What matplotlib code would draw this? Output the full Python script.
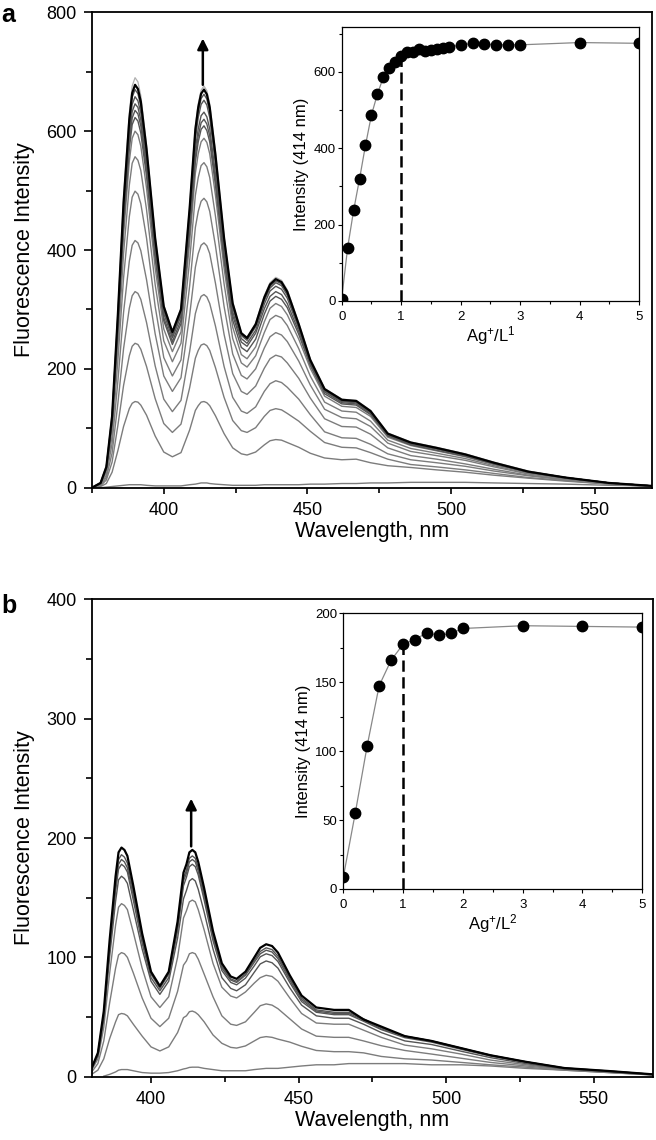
import numpy as np
import matplotlib
matplotlib.use('Agg')
import matplotlib.pyplot as plt
from matplotlib.ticker import MultipleLocator

plt.rcParams['font.family'] = ['Liberation Sans', 'DejaVu Sans']
plt.rcParams['mathtext.fontset'] = 'custom'
plt.rcParams['mathtext.rm'] = 'Liberation Sans'
plt.rcParams['mathtext.it'] = 'Liberation Sans:italic'

# ---- panel a: emission spectra (L1 + Ag+) ----
wl_a = [375, 378, 380, 382, 384, 386, 388,
        389, 390, 391, 392, 394, 397, 400, 403, 406, 409, 411, 412, 413, 414, 415, 416, 418,
        421, 424, 427, 429, 432, 435, 437, 439, 441, 443, 447,
        451, 456, 462, 467, 472, 478, 486, 495, 505, 515, 527, 540, 555, 570]
a_base = [0, 0, 1, 2, 3, 4, 5,
          5, 5, 5, 5, 4, 3, 3, 3, 3, 5, 6, 7, 8, 8, 8, 7, 6, 5, 4, 4, 4, 4, 5, 5, 5, 5, 5, 5,
          6, 6, 7, 7, 8, 8, 9, 9, 9, 8, 7, 6, 4, 3]
a_01 = [0, 2, 7, 26, 62, 103, 133,
        142, 145, 144, 139, 122, 87, 60, 52, 59, 97, 130, 138, 144, 145, 143, 138, 121, 91, 67,
        57, 55, 60, 72, 79, 81, 80, 76, 68,
        58, 50, 47, 48, 42, 37, 34, 30, 26, 21, 16, 11, 6, 2]
a_02 = [0, 3, 13, 43, 104, 172, 222,
        238, 243, 241, 233, 204, 150, 108, 93, 107, 168, 218, 231, 240, 242, 239, 231, 202, 152,
        113, 96, 93, 101, 120, 130, 133, 131, 125, 112,
        95, 76, 68, 67, 59, 48, 39, 35, 30, 24, 17, 12, 6, 2]
a_03 = [0, 4, 17, 58, 141, 234, 302,
        323, 330, 327, 317, 278, 205, 149, 128, 147, 229, 293, 310, 322, 325, 321, 310, 272, 204,
        152, 129, 125, 136, 162, 175, 180, 177, 169, 149,
        123, 94, 84, 83, 73, 57, 47, 42, 36, 28, 20, 13, 7, 2]
a_04 = [0, 5, 21, 74, 178, 295, 381,
        408, 416, 412, 399, 350, 259, 188, 162, 185, 290, 371, 394, 408, 412, 407, 394, 344, 258,
        192, 162, 157, 171, 201, 217, 223, 220, 210, 184,
        151, 116, 103, 102, 90, 67, 54, 48, 40, 31, 21, 14, 7, 2.5]
a_05 = [0, 6, 26, 88, 213, 353, 456,
        489, 499, 494, 478, 420, 305, 219, 188, 215, 339, 438, 465, 482, 487, 481, 465, 407, 305,
        225, 189, 183, 200, 235, 254, 261, 257, 246, 213,
        173, 132, 118, 116, 103, 75, 61, 54, 46, 35, 23, 15, 7, 2.5]
a_06 = [0, 7, 29, 99, 238, 394, 509,
        546, 557, 551, 534, 468, 342, 247, 212, 243, 382, 492, 522, 542, 547, 540, 522, 457, 343,
        251, 210, 203, 222, 261, 283, 290, 286, 273, 234,
        188, 144, 129, 127, 112, 80, 66, 58, 49, 37, 24, 16, 8, 3]
a_07 = [0, 7, 31, 106, 257, 425, 549,
        588, 600, 594, 575, 504, 370, 267, 229, 262, 412, 529, 562, 582, 588, 581, 562, 492, 369,
        270, 224, 217, 237, 279, 302, 310, 305, 291, 250,
        201, 154, 137, 135, 120, 85, 71, 62, 52, 39, 26, 16, 8, 3]
a_08 = [0, 7, 32, 110, 267, 441, 570,
        611, 623, 617, 597, 524, 386, 281, 241, 276, 430, 548, 582, 603, 609, 601, 582, 509, 382,
        282, 236, 229, 250, 292, 314, 322, 317, 303, 258,
        206, 158, 141, 139, 123, 87, 72, 63, 53, 40, 26, 16, 8, 3]
a_09 = [0, 7, 33, 112, 272, 450, 581,
        622, 635, 629, 609, 534, 394, 286, 246, 282, 438, 558, 592, 614, 620, 612, 592, 518, 389,
        290, 245, 238, 260, 301, 322, 330, 325, 310, 263,
        209, 161, 143, 141, 125, 88, 73, 65, 54, 41, 26, 17, 8, 3]
a_10 = [0, 8, 33, 114, 276, 457, 591,
        633, 646, 640, 619, 543, 402, 293, 252, 289, 448, 569, 604, 626, 632, 624, 604, 528, 396,
        296, 251, 243, 265, 309, 331, 339, 334, 319, 268,
        212, 163, 145, 143, 126, 89, 75, 66, 55, 41, 27, 17, 8, 3]
a_12 = [0, 8, 34, 117, 282, 466, 602,
        645, 658, 651, 631, 553, 409, 298, 256, 293, 458, 587, 623, 645, 652, 644, 623, 545, 409,
        303, 256, 248, 271, 315, 336, 345, 340, 324, 271,
        213, 164, 146, 144, 127, 90, 76, 67, 56, 42, 27, 17, 8, 3]
a_16 = [0, 8, 35, 119, 287, 474, 613,
        657, 670, 663, 642, 563, 415, 302, 259, 297, 464, 596, 632, 655, 662, 654, 632, 553, 415,
        307, 258, 250, 273, 317, 339, 348, 343, 327, 273,
        215, 165, 147, 145, 128, 90, 76, 67, 56, 42, 27, 17, 8, 3]
a_top = [0, 8, 35, 120, 290, 480, 620,
         664, 678, 671, 650, 570, 420, 305, 262, 300, 470, 603, 640, 663, 670, 662, 640, 560, 420,
         310, 260, 252, 275, 320, 342, 351, 346, 330, 275,
         215, 166, 148, 146, 129, 91, 76, 67, 56, 42, 27, 17, 8, 3]
a_out = [0, 9, 37, 124, 296, 488, 630,
         676, 690, 683, 660, 576, 424, 307, 263, 302, 474, 608, 646, 669, 676, 668, 646, 565, 423,
         312, 261, 253, 277, 323, 345, 354, 349, 333, 277,
         217, 167, 149, 147, 130, 92, 77, 68, 57, 43, 28, 17, 8, 3]

# inset a: titration curve
ratio_a = [0, 0.1, 0.2, 0.3, 0.4, 0.5, 0.6, 0.7, 0.8, 0.9, 1.0, 1.1, 1.2, 1.3, 1.4, 1.5, 1.6,
           1.7, 1.8, 2.0, 2.2, 2.4, 2.6, 2.8, 3.0, 4.0, 5.0]
int_a = [6, 140, 237, 320, 408, 487, 542, 586, 610, 627, 642, 653, 653, 660, 656, 658, 660,
         662, 665, 671, 675, 673, 671, 671, 671, 677, 675]

# ---- panel b: emission spectra (L2 + Ag+) ----
wl_b = [380, 382, 384, 386, 388,
        389, 390, 391, 392, 394, 397, 400, 403, 406, 409, 411, 412, 413, 414, 415, 416, 418,
        421, 424, 427, 429, 432, 435, 437, 439, 441, 443, 447,
        451, 456, 462, 467, 472, 478, 486, 495, 505, 515, 527, 540, 555, 570]
b_base = [np.nan, np.nan, 0.5, 2, 4,
          5.5, 6, 6, 6, 5, 3.5, 3, 3, 3.5, 5, 6.5, 7, 7.8, 8, 8, 8, 7, 6, 5, 5, 5, 5, 6, 6.5,
          7, 7, 7, 8,
          9, 10, 10, 11, 11, 11, 11, 10, 10, 9, 7, 5.5, 3.5, 1.5]
b_02 = [2.2, 5.5, 15, 32, 46,
        52, 53, 52.5, 51, 44, 34, 25, 21.6, 25, 37, 49.5, 51, 54.5, 55, 54, 52, 46, 35, 28,
        24.6, 24, 25.8, 30, 32.8, 33.6, 33, 31.5, 29,
        25.5, 22, 21, 21, 20, 17, 15, 14, 12, 10, 8, 5.5, 3.5, 1.5]
b_04 = [4.3, 11, 30, 62, 91,
        102, 104, 103, 100, 87, 66, 49, 42, 49, 71.5, 93.5, 97, 103, 104, 103, 98.5, 86, 67, 51,
        44, 43, 46, 54, 59.5, 61, 60, 57, 48.5,
        40, 34, 33, 33, 30, 26, 22, 19, 15.5, 12, 9, 6, 4, 1.7]
b_06 = [6, 15, 41.5, 87, 127,
        142, 145, 143.5, 140, 121, 91, 67, 58, 67, 100, 133, 139, 146.5, 148, 146.5, 140, 123,
        95, 75, 67.6, 66, 71, 78.5, 83, 85, 84, 80, 66,
        53, 45, 44, 44, 39, 33, 26.5, 23.4, 19, 14, 10, 6, 3.8, 1.6]
b_08 = [7, 17.5, 48, 101, 147,
        165, 168, 166, 162, 140, 107, 80, 69, 80, 116, 149, 156, 164, 166, 164, 157, 138, 107,
        83, 74, 72, 77, 87.6, 94.5, 97, 95.5, 91, 74.5,
        60, 51, 49, 49, 44, 37, 30, 27, 21.4, 16, 11, 6.5, 4.3, 1.8]
b_10 = [7.4, 18.5, 51, 107, 156,
        174, 178, 176, 171.5, 148, 112, 83, 72, 83, 122.5, 160, 167, 176, 178, 176, 169, 148,
        114, 89, 79, 77, 82.6, 93, 100.5, 103, 101.5, 96.5, 79,
        63, 54, 52, 52, 46.5, 39.5, 32.7, 29, 23, 17.3, 12, 7, 4.6, 1.9]
b_12 = [7.6, 19, 52, 109, 159,
        178, 182, 180, 175, 152, 115, 86, 74, 86, 125.6, 164, 170.5, 180, 182, 180, 172.4, 151,
        117, 91, 81, 79, 85, 96, 103, 106, 104.5, 99, 81,
        64.6, 55, 53, 53, 47.5, 40, 34, 30, 24, 18, 12.5, 7.3, 4.8, 2]
b_16 = [7.8, 19.4, 53, 111, 163,
        182, 186, 184, 179, 155, 117, 87, 75, 87, 127, 166.5, 173, 183, 185, 183, 175, 154,
        119, 92.6, 82, 80, 86, 97.5, 105, 108, 106.5, 101, 82.5,
        66, 56, 54, 54, 48.5, 41, 34, 30, 24, 18, 12.5, 7.3, 4.8, 2]
b_top = [8, 20, 55, 115, 168,
         188, 192, 190, 185, 160, 120, 88, 76, 88, 130, 171, 178, 188, 190, 188, 180, 158,
         122, 95, 84, 82, 88, 100, 108, 111, 109.5, 104, 85,
         68, 58, 56, 56, 48, 42, 34, 30, 24, 18, 12.5, 7.3, 4.8, 2]

# inset b: titration curve
ratio_b = [0, 0.2, 0.4, 0.6, 0.8, 1.0, 1.2, 1.4, 1.6, 1.8, 2.0, 3.0, 4.0, 5.0]
int_b = [8.5, 55, 104, 147.5, 166, 177.5, 181, 186, 184, 185.5, 189, 191, 190.5, 190]

# arrows (x, start, end)
arrow_a = (413.6, 678, 756)
arrow_b = (413.6, 193, 233)

GRAY = '#7c7c7c'


def style_main(ax):
    for s in ax.spines.values():
        s.set_linewidth(1.3)
    ax.tick_params(which='both', direction='out', top=False, right=False, width=1.2,
                   labelsize=13)
    ax.tick_params(axis='x', which='major', length=4.5, pad=5.5)
    ax.tick_params(axis='x', which='minor', length=3.5)
    ax.tick_params(axis='y', which='major', length=6, pad=5)
    ax.tick_params(axis='y', which='minor', length=4)
    ax.xaxis.set_major_locator(MultipleLocator(50))
    ax.xaxis.set_minor_locator(MultipleLocator(25))
    ax.set_xlabel('Wavelength, nm', fontsize=15.5, labelpad=2)
    ax.set_ylabel('Fluorescence Intensity', fontsize=15.5, labelpad=8)


def style_inset(ax, xlab):
    for s in ax.spines.values():
        s.set_linewidth(0.9)
    ax.tick_params(which='both', direction='out', width=0.8, labelsize=9.5)
    ax.tick_params(axis='x', which='major', length=3, pad=4)
    ax.tick_params(axis='y', which='major', length=3, pad=1.5)
    ax.tick_params(which='minor', length=2)
    ax.set_xlim(0, 5)
    ax.xaxis.set_major_locator(MultipleLocator(1))
    ax.xaxis.set_minor_locator(MultipleLocator(0.5))
    ax.set_xlabel(xlab, fontsize=12, labelpad=1)
    ax.set_ylabel('Intensity (414 nm)', fontsize=12, labelpad=3)


def draw_spectra(ax, wl, lower, upper, base, top, outer=None):
    ax.plot(wl, base, color=GRAY, lw=1.0)
    for c in lower:
        ax.plot(wl, c, color=GRAY, lw=1.0)
    for c in upper:
        ax.plot(wl, c, color='#555555', lw=1.0)
    if outer is not None:
        ax.plot(wl, outer, color='#b0b0b0', lw=0.9)
    ax.plot(wl, top, color='black', lw=1.6)


def draw_inset(ax, x, y):
    ax.plot(x, y, '-', color='#888888', lw=0.9, zorder=2)
    ax.plot(x, y, 'o', color='black', ms=7.5, zorder=3)
    yv = y[x.index(1.0)]
    ax.plot([1, 1], [0, yv], color='black', lw=1.8, ls=(0, (4.5, 2.2)), zorder=1)


fig = plt.figure(figsize=(6.56, 11.4), dpi=100)

# panel a
ax1 = fig.add_axes([0.1402, 0.5722, 0.8537, 0.4170])
draw_spectra(ax1, wl_a, [a_01, a_02, a_03, a_04, a_05, a_06, a_07],
             [a_08, a_09, a_10, a_12, a_16], a_base, a_top, a_out)
ax1.set_xlim(375, 570)
ax1.set_ylim(0, 800)
ax1.yaxis.set_major_locator(MultipleLocator(200))
ax1.yaxis.set_minor_locator(MultipleLocator(100))
style_main(ax1)
ax1.annotate('', xy=(arrow_a[0], arrow_a[2]), xytext=(arrow_a[0], arrow_a[1]),
             arrowprops=dict(arrowstyle='-|>', color='black', lw=1.8, mutation_scale=16,
                             shrinkA=0, shrinkB=0))

in1 = fig.add_axes([0.5209, 0.7360, 0.4532, 0.2404])
draw_inset(in1, ratio_a, int_a)
in1.set_ylim(0, 718)
in1.yaxis.set_major_locator(MultipleLocator(200))
in1.yaxis.set_minor_locator(MultipleLocator(100))
style_inset(in1, r'Ag$^{+}$/L$^{1}$')

# panel b
ax2 = fig.add_axes([0.1402, 0.0555, 0.8550, 0.4188])
draw_spectra(ax2, wl_b, [b_02, b_04, b_06], [b_08, b_10, b_12, b_16], b_base, b_top)
ax2.set_xlim(380, 570)
ax2.set_ylim(0, 400)
ax2.yaxis.set_major_locator(MultipleLocator(100))
ax2.yaxis.set_minor_locator(MultipleLocator(50))
style_main(ax2)
ax2.annotate('', xy=(arrow_b[0], arrow_b[2]), xytext=(arrow_b[0], arrow_b[1]),
             arrowprops=dict(arrowstyle='-|>', color='black', lw=1.8, mutation_scale=16,
                             shrinkA=0, shrinkB=0))

in2 = fig.add_axes([0.5233, 0.2202, 0.4558, 0.2418])
draw_inset(in2, ratio_b, int_b)
in2.set_ylim(0, 200)
in2.yaxis.set_major_locator(MultipleLocator(50))
in2.yaxis.set_minor_locator(MultipleLocator(25))
style_inset(in2, r'Ag$^{+}$/L$^{2}$')

fig.text(0.002, 0.987, 'a', fontsize=18, fontweight='bold', va='center', ha='left')
fig.text(0.002, 0.468, 'b', fontsize=18, fontweight='bold', va='center', ha='left')

fig.savefig('out.png', dpi=100)
